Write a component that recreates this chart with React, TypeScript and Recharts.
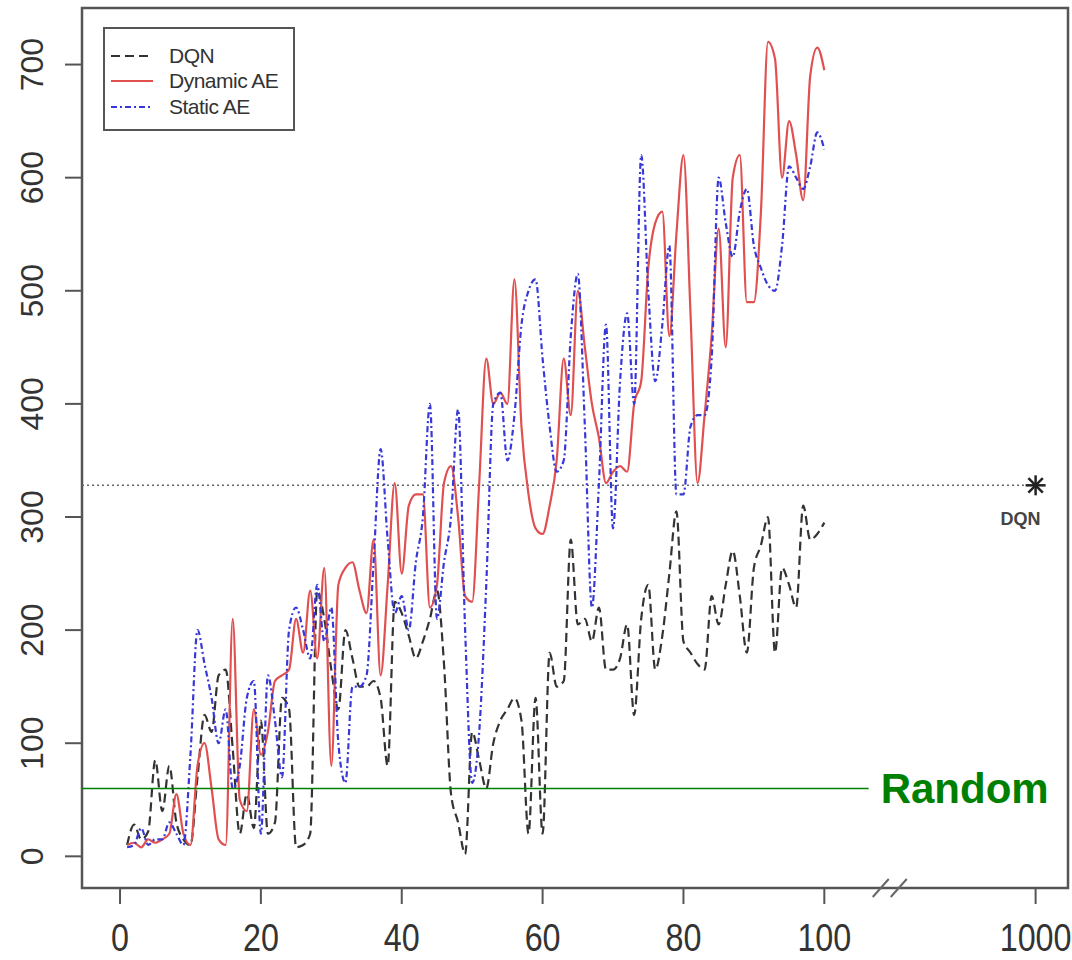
import React from 'react';
import {
  ComposedChart, Line, Scatter, XAxis, YAxis, ReferenceLine, ReferenceArea,
  ReferenceDot, Legend,
} from 'recharts';

const EPISODES = [
  1, 2, 3, 4, 5, 6, 7, 8, 9, 10, 11, 12, 13, 14, 15, 16, 17, 18, 19, 20,
  21, 22, 23, 24, 25, 26, 27, 28, 29, 30, 31, 32, 33, 34, 35, 36, 37, 38, 39, 40,
  41, 42, 43, 44, 45, 46, 47, 48, 49, 50, 51, 52, 53, 54, 55, 56, 57, 58, 59, 60,
  61, 62, 63, 64, 65, 66, 67, 68, 69, 70, 71, 72, 73, 74, 75, 76, 77, 78, 79, 80,
  81, 82, 83, 84, 85, 86, 87, 88, 89, 90, 91, 92, 93, 94, 95, 96, 97, 98, 99, 100,
];

const DQN = [
  10, 28, 15, 22, 85, 40, 80, 30, 15, 10, 70, 125, 110, 160, 165, 95, 20, 55, 25, 120,
  20, 30, 140, 130, 8, 10, 20, 235, 210, 165, 130, 200, 175, 150, 150, 155, 140, 80, 225, 215,
  195, 175, 190, 210, 235, 170, 55, 30, 2, 110, 85, 60, 100, 120, 130, 140, 120, 20, 140, 20,
  180, 150, 155, 280, 205, 210, 190, 220, 165, 165, 175, 205, 125, 210, 240, 165, 195, 250, 305, 190,
  180, 170, 165, 230, 205, 240, 270, 230, 180, 255, 275, 300, 180, 255, 240, 220, 310, 280, 285, 295,
];

const DYNAMIC_AE = [
  10, 12, 8, 15, 12, 15, 20, 55, 20, 10, 80, 100, 60, 15, 10, 210, 50, 40, 130, 90,
  110, 155, 160, 165, 210, 180, 235, 175, 255, 80, 240, 255, 260, 235, 215, 280, 160, 240, 330, 250,
  310, 320, 320, 220, 240, 330, 345, 300, 230, 225, 330, 440, 400, 410, 400, 510, 380, 320, 290, 285,
  310, 350, 440, 390, 500, 450, 400, 370, 330, 340, 345, 340, 400, 420, 520, 560, 570, 460, 550, 620,
  480, 330, 390, 460, 555, 450, 600, 620, 490, 490, 570, 720, 705, 600, 650, 620, 580, 690, 715, 695,
];

const STATIC_AE = [
  8, 10, 25, 10, 15, 15, 30, 20, 10, 90, 200, 170, 140, 100, 130, 60, 80, 140, 155, 20,
  160, 120, 70, 200, 220, 200, 175, 240, 190, 220, 100, 65, 150, 150, 160, 260, 360, 280, 215, 230,
  200, 260, 300, 400, 210, 260, 300, 395, 200, 65, 110, 240, 400, 410, 350, 390, 470, 500, 510, 440,
  380, 340, 350, 460, 515, 380, 220, 330, 470, 290, 420, 480, 400, 620, 500, 420, 470, 540, 320, 320,
  380, 390, 390, 440, 600, 560, 530, 570, 590, 540, 520, 505, 500, 540, 610, 600, 590, 610, 640, 625,
];

const X_TICKS = [0, 20, 40, 60, 80, 100, 1000];
const Y_TICKS = [0, 100, 200, 300, 400, 500, 600, 700];
const DQN_REFERENCE = { episode: 1000, score: 328, name: 'DQN' };
const RANDOM_SCORE = 60;
const RANDOM_END = 106.3;

// x axis is broken after 100: episode 1000 is drawn at position 130
const BREAK_AFTER = 100;
const BREAK_MARK = 110;
const FAR_POS = 130;
const breakPos = (ep: number) => (ep > BREAK_AFTER ? FAR_POS : ep);

const X_MIN = -5.4;
const X_MAX = 134.6;
const Y_MIN = -28;
const Y_MAX = 750;

const data = EPISODES.map((ep, i) => ({
  episode: ep,
  dqn: DQN[i],
  dynamic: DYNAMIC_AE[i],
  stat: STATIC_AE[i],
}));

const farPoint = [{ ...DQN_REFERENCE, episode: breakPos(DQN_REFERENCE.episode) }];

const SANS = "'Liberation Sans', Arial, sans-serif";

const YTick = ({ x, y, payload }: any) => (
  <text
    transform={`translate(${x - 20},${y}) rotate(-90)`}
    textAnchor="middle"
    fontSize={32}
    fontFamily={SANS}
    fill="#333"
  >
    {payload.value}
  </text>
);

const XTick = ({ x, y, payload }: any) => (
  <g transform={`translate(${x},${y + 45}) scale(0.85,1)`}>
    <text x={0} y={0} textAnchor="middle" fontSize={38} fontFamily={SANS} fill="#333">
      {payload.value === FAR_POS ? '1000' : payload.value}
    </text>
  </g>
);

const Asterisk = ({ cx, cy, payload }: any) => {
  const r = 10;
  const d = r * 0.72;
  return (
    <g stroke="#222" strokeWidth={2.5}>
      <line x1={cx - r} y1={cy} x2={cx + r} y2={cy} />
      <line x1={cx} y1={cy - r} x2={cx} y2={cy + r} />
      <line x1={cx - d} y1={cy - d} x2={cx + d} y2={cy + d} />
      <line x1={cx - d} y1={cy + d} x2={cx + d} y2={cy - d} />
      <text x={cx - 15} y={cy + 40} textAnchor="middle" fontSize={18} fontWeight="bold"
        fontFamily={SANS} fill="#444" stroke="none">
        {payload.name}
      </text>
    </g>
  );
};

const BreakMark = ({ cx, cy }: any) => (
  <g stroke="#666" strokeWidth={2}>
    <line x1={cx - 22} y1={cy + 9} x2={cx - 6} y2={cy - 9} />
    <line x1={cx - 4} y1={cy + 9} x2={cx + 12} y2={cy - 9} />
  </g>
);

const LEGEND_ITEMS = [
  { label: 'DQN', color: '#333', dash: '9 5' },
  { label: 'Dynamic AE', color: '#e05050', dash: undefined },
  { label: 'Static AE', color: '#3838d8', dash: '6 3 2 3' },
];

const renderLegend = () => (
  <div style={{
    width: 192, height: 104, border: '2px solid #555', boxSizing: 'border-box',
    background: '#fff', paddingTop: 14, fontFamily: SANS,
  }}>
    {LEGEND_ITEMS.map((item) => (
      <div key={item.label} style={{ display: 'flex', alignItems: 'center', height: 25.5 }}>
        <svg width={60} height={10} style={{ marginLeft: 4 }}>
          <line x1={2} y1={5} x2={44} y2={5} stroke={item.color} strokeWidth={2}
            strokeDasharray={item.dash} />
        </svg>
        <span style={{ fontSize: 21, color: '#333', letterSpacing: -0.5 }}>{item.label}</span>
      </div>
    ))}
  </div>
);

export default function App() {
  return (
    <div style={{ position: 'absolute', left: 0, top: 0, background: '#fff' }}>
      <ComposedChart
        width={1072}
        height={960}
        data={data}
        margin={{ top: 8, right: 4, bottom: 0, left: 0 }}
      >
        <XAxis
          type="number"
          dataKey="episode"
          domain={[X_MIN, X_MAX]}
          ticks={X_TICKS.map(breakPos)}
          allowDataOverflow
          axisLine={false}
          tickLine={{ stroke: '#555', strokeWidth: 2 }}
          tickSize={16}
          tick={<XTick />}
          height={72}
          interval={0}
        />
        <YAxis
          type="number"
          domain={[Y_MIN, Y_MAX]}
          ticks={Y_TICKS}
          allowDataOverflow
          axisLine={false}
          tickLine={{ stroke: '#555', strokeWidth: 2 }}
          tickSize={17}
          tick={<YTick />}
          width={82}
          interval={0}
        />
        <ReferenceArea x1={X_MIN} x2={X_MAX} y1={Y_MIN} y2={Y_MAX} fill="none"
          stroke="#555" strokeWidth={2.5} ifOverflow="visible" />
        <ReferenceLine
          segment={[{ x: X_MIN, y: DQN_REFERENCE.score }, { x: FAR_POS, y: DQN_REFERENCE.score }]}
          stroke="#666" strokeWidth={1.5} strokeDasharray="2 3"
        />
        <Line dataKey="dqn" type="monotone" stroke="#333" strokeWidth={2.2} strokeDasharray="9 5"
          dot={false} isAnimationActive={false} />
        <Line dataKey="dynamic" type="monotone" stroke="#e05050" strokeWidth={2.2}
          dot={false} isAnimationActive={false} />
        <Line dataKey="stat" type="monotone" stroke="#3838d8" strokeWidth={2.2} strokeDasharray="6 3 2 3"
          dot={false} isAnimationActive={false} />
        <ReferenceLine
          segment={[{ x: X_MIN, y: RANDOM_SCORE }, { x: RANDOM_END, y: RANDOM_SCORE }]}
          stroke="#008000" strokeWidth={1.5}
          label={{
            value: 'Random', position: 'right', offset: 12, fill: '#008000',
            fontSize: 42, fontWeight: 'bold', fontFamily: SANS,
          }}
        />
        <Scatter data={farPoint} dataKey="score" shape={<Asterisk />} isAnimationActive={false} />
        <ReferenceDot x={BREAK_MARK} y={Y_MIN} r={0} shape={<BreakMark />} ifOverflow="visible" />
        <Legend
          layout="horizontal"
          verticalAlign="middle"
          align="center"
          wrapperStyle={{ top: 27, left: 103, width: 192, height: 104 }}
          content={renderLegend}
        />
      </ComposedChart>
    </div>
  );
}
